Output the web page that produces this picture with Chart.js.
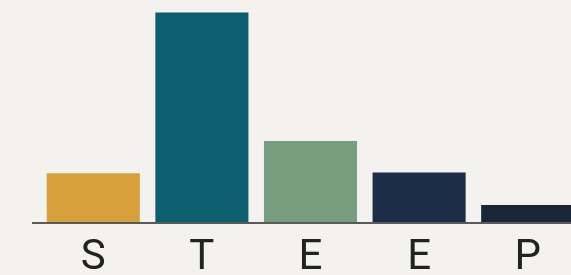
<!DOCTYPE html>
<html>
<head>
<meta charset="utf-8">
<script src="https://cdn.jsdelivr.net/npm/chart.js@4"></script>
<style>
  html, body { margin: 0; padding: 0; background: #F3F2EE; overflow: hidden; }
  #wrap { width: 571px; height: 275px; overflow: hidden; position: relative; }
  canvas { position: absolute; left: 0; top: 0; }
</style>
</head>
<body>
<div id="wrap"><canvas id="c" width="582" height="293"></canvas></div>
<script>
const categories = ['S', 'T', 'E', 'E', 'P'];
const values = [23.7, 100, 39, 24, 8.6];
const barColors = ['#D7A03A', '#0D5E6E', '#789E80', '#1C2D48', '#182638'];
const yMax = 106;

const baselinePlugin = {
  id: 'baseline',
  afterDatasetsDraw(chart) {
    const { ctx, chartArea } = chart;
    const y = chart.scales.y.getPixelForValue(0);
    ctx.save();
    ctx.strokeStyle = '#5A5A58';
    ctx.lineWidth = 2;
    ctx.beginPath();
    ctx.moveTo(chartArea.left - 7, y);
    ctx.lineTo(chartArea.right, y);
    ctx.stroke();
    ctx.restore();
  }
};

new Chart(document.getElementById('c'), {
  type: 'bar',
  data: {
    labels: categories,
    datasets: [{
      data: values,
      backgroundColor: barColors,
      borderWidth: 0,
      categoryPercentage: 0.857,
      barPercentage: 1.0
    }]
  },
  options: {
    responsive: false,
    animation: false,
    layout: { padding: { left: 39, right: 0, top: 0, bottom: 0 } },
    plugins: { legend: { display: false }, tooltip: { enabled: false } },
    scales: {
      x: {
        grid: { display: false, drawTicks: false },
        border: { display: false },
        ticks: {
          color: '#222222',
          padding: 14,
          font: { family: 'Roboto', size: 42, weight: 400, lineHeight: 1 }
        }
      },
      y: {
        display: false,
        min: 0,
        max: yMax
      }
    }
  },
  plugins: [baselinePlugin]
});
</script>
</body>
</html>
